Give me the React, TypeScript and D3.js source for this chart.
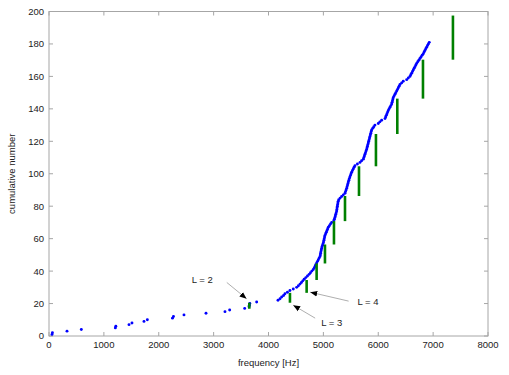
import React from 'react';
import * as d3 from 'd3';

// cumulative count n = index + 1, value = frequency in Hz
const freqs = [
  55, 62, 328, 589, 1209, 1218, 1458, 1512, 1731, 1792,
  2250, 2268, 2460, 2861, 3207, 3292, 3566, 3645, 3652, 3660,
  3784, 4173, 4210, 4240, 4275, 4300, 4345, 4391, 4452, 4513,
  4545, 4574, 4600, 4625, 4650, 4680, 4710, 4740, 4765, 4790,
  4816, 4835, 4850, 4862, 4878, 4893, 4908, 4923, 4938, 4945,
  4950, 4955, 4962, 4968, 4975, 4985, 4995, 5003, 5010, 5016,
  5022, 5029, 5042, 5054, 5066, 5078, 5090, 5110, 5130, 5151,
  5190, 5200, 5210, 5218, 5226, 5234, 5242, 5246, 5250, 5255,
  5260, 5265, 5270, 5280, 5305, 5333, 5364, 5394, 5404, 5414,
  5424, 5432, 5440, 5448, 5456, 5465, 5473, 5483, 5494, 5504,
  5515, 5530, 5545, 5560, 5576, 5620, 5667, 5697, 5728, 5738,
  5748, 5758, 5768, 5778, 5788, 5796, 5803, 5811, 5819, 5826,
  5834, 5841, 5849, 5857, 5865, 5872, 5880, 5900, 5920, 5940,
  6001, 6030, 6062, 6123, 6135, 6147, 6159, 6171, 6183, 6198,
  6214, 6230, 6245, 6252, 6260, 6267, 6274, 6290, 6305, 6320,
  6336, 6351, 6366, 6381, 6396, 6426, 6456, 6518, 6548, 6578,
  6593, 6609, 6624, 6639, 6654, 6670, 6685, 6700, 6720, 6740,
  6760, 6780, 6800, 6821, 6836, 6851, 6866, 6882, 6898, 6914,
  6930,
];

// green bars: frequency, lower and upper count
const barFreq = [3650, 4391, 4695, 4877, 5029, 5193, 5394, 5649, 5958, 6347, 6815, 7361];
const barLow = [16.8, 20.5, 26.6, 34.5, 44.7, 56.4, 70.8, 86.3, 104.6, 124.5, 146.3, 170.3];
const barHigh = [20.5, 26.6, 34.5, 44.7, 56.4, 70.8, 86.3, 104.6, 124.5, 146.3, 170.3, 197.5];

const xTicks = [0, 1000, 2000, 3000, 4000, 5000, 6000, 7000, 8000];
const yTicks = [0, 20, 40, 60, 80, 100, 120, 140, 160, 180, 200];

// annotations: label, text position (data), arrow start and tip (data)
const notes = [
  { text: 'L = 2', tx: 2600, ty: 32.8, from: [3240, 33], to: [3600, 23] },
  { text: 'L = 3', tx: 4960, ty: 6.2, from: [4850, 11], to: [4450, 19] },
  { text: 'L = 4', tx: 5620, ty: 19, from: [5460, 21.5], to: [4760, 27] },
];

const W = 509;
const H = 375;
const m = { left: 49, right: 21, top: 11.5, bottom: 39 };

export default function App() {
  const x = d3.scaleLinear().domain([0, 8000]).range([m.left, W - m.right]);
  const y = d3.scaleLinear().domain([0, 200]).range([H - m.bottom, m.top]);
  const font = 'Liberation Sans, Arial, Helvetica, sans-serif';
  const axisCol = '#a6a6a6';
  const x0 = x(0), x1 = x(8000), y0 = y(0), y1 = y(200);

  return (
    <svg width={W} height={H} style={{ position: 'absolute', left: 0, top: 0, background: '#fff' }} fontFamily={font}>
      <defs>
        <marker id="ah" viewBox="0 0 10 10" refX="10" refY="5" markerWidth="7" markerHeight="7" orient="auto" markerUnits="userSpaceOnUse">
          <path d="M0,1 L10,5 L0,9 z" fill="#000" />
        </marker>
      </defs>
      {/* box */}
      <rect x={x0} y={y1} width={x1 - x0} height={y0 - y1} fill="none" stroke={axisCol} strokeWidth={1} />
      {xTicks.map((t) => (
        <g key={'x' + t}>
          <line x1={x(t)} x2={x(t)} y1={y0} y2={y0 - 4} stroke={axisCol} />
          <line x1={x(t)} x2={x(t)} y1={y1} y2={y1 + 4} stroke={axisCol} />
          <text x={x(t)} y={y0 + 12} textAnchor="middle" fontSize={9.5} fill="#222">{t}</text>
        </g>
      ))}
      {yTicks.map((t) => (
        <g key={'y' + t}>
          <line x1={x0} x2={x0 + 4} y1={y(t)} y2={y(t)} stroke={axisCol} />
          <line x1={x1} x2={x1 - 4} y1={y(t)} y2={y(t)} stroke={axisCol} />
          <text x={x0 - 5} y={y(t) + 3.4} textAnchor="end" fontSize={9.5} fill="#222">{t}</text>
        </g>
      ))}
      <text x={(x0 + x1) / 2} y={H - 9} textAnchor="middle" fontSize={9.5} fill="#222">frequency [Hz]</text>
      <text transform={`translate(15,${(y0 + y1) / 2}) rotate(-90)`} textAnchor="middle" fontSize={9.5} fill="#222">cumulative number</text>

      {/* cumulative points */}
      {freqs.map((f, i) => (
        <circle key={'p' + i} cx={x(f)} cy={y(i + 1)} r={1.45} fill="#0000ff" />
      ))}
      {/* bars */}
      {barFreq.map((f, i) => (
        <line key={'b' + i} x1={x(f)} x2={x(f)} y1={y(barLow[i])} y2={y(barHigh[i])} stroke="#008000" strokeWidth={2.6} />
      ))}
      {/* annotations */}
      {notes.map((n) => (
        <g key={n.text}>
          <line x1={x(n.from[0])} y1={y(n.from[1])} x2={x(n.to[0])} y2={y(n.to[1])} stroke="#777" strokeWidth={0.6} markerEnd="url(#ah)" />
          <text x={x(n.tx)} y={y(n.ty)} fontSize={9.5} fill="#222">{n.text}</text>
        </g>
      ))}
    </svg>
  );
}
